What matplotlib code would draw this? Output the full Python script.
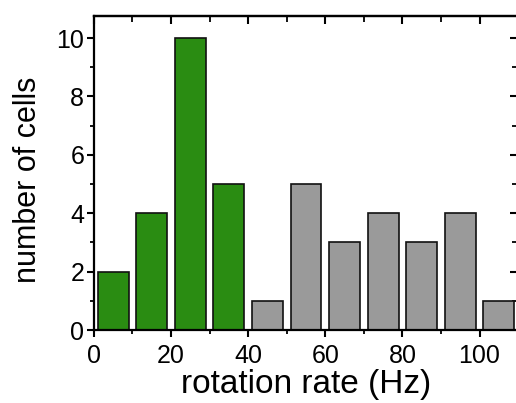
import matplotlib
matplotlib.use("Agg")
import matplotlib.pyplot as plt
from matplotlib.ticker import MultipleLocator

plt.rcParams['font.family'] = ['Liberation Sans', 'DejaVu Sans']

green_centers = [5, 15, 25, 35]
green_counts = [2, 4, 10, 5]
gray_centers = [45, 55, 65, 75, 85, 95, 105]
gray_counts = [1, 5, 3, 4, 3, 4, 1]
xticks = [0, 20, 40, 60, 80, 100]
yticks = [0, 2, 4, 6, 8, 10]

fig = plt.figure(figsize=(5.16, 4.03), dpi=100)
ax = fig.add_axes([0.182, 0.181, 1.004 - 0.182, 0.960 - 0.181])

ax.bar(green_centers, green_counts, width=8, color='#2a8c12', edgecolor='#111111', linewidth=1.2, zorder=2)
ax.bar(gray_centers, gray_counts, width=8, color='#9a9a9a', edgecolor='#111111', linewidth=1.2, zorder=2)

ax.set_xlim(0, 110)
ax.set_ylim(0, 10.75)
ax.set_xticks(xticks)
ax.set_yticks(yticks)
ax.xaxis.set_minor_locator(MultipleLocator(10))
ax.yaxis.set_minor_locator(MultipleLocator(1))

for s in ax.spines.values():
    s.set_linewidth(1.6)

ax.tick_params(axis='both', which='major', labelsize=18, width=1.5, length=5, direction='out', pad=2)
ax.tick_params(axis='x', which='major', pad=5)
ax.tick_params(axis='both', which='minor', width=1.3, length=3, direction='out')
ax.tick_params(top=False, right=False, which='both')

# inward ticks on top and right
secx = ax.secondary_xaxis('top')
secx.set_xticks(xticks)
secx.xaxis.set_minor_locator(MultipleLocator(10))
secx.tick_params(which='major', direction='in', length=6, width=1.5, labeltop=False)
secx.tick_params(which='minor', direction='in', length=4, width=1.3)
secx.spines['top'].set_linewidth(1.6)
secy = ax.secondary_yaxis('right')
secy.set_yticks(yticks)
secy.yaxis.set_minor_locator(MultipleLocator(1))
secy.tick_params(which='major', direction='in', length=6, width=1.5, labelright=False)
secy.tick_params(which='minor', direction='in', length=4, width=1.3)

ax.set_xlabel('rotation rate (Hz)', fontsize=24, labelpad=1)
ax.set_ylabel('number of cells', fontsize=22)
ax.yaxis.set_label_coords(-0.121, 0.478)

fig.savefig('out.png', dpi=100)
